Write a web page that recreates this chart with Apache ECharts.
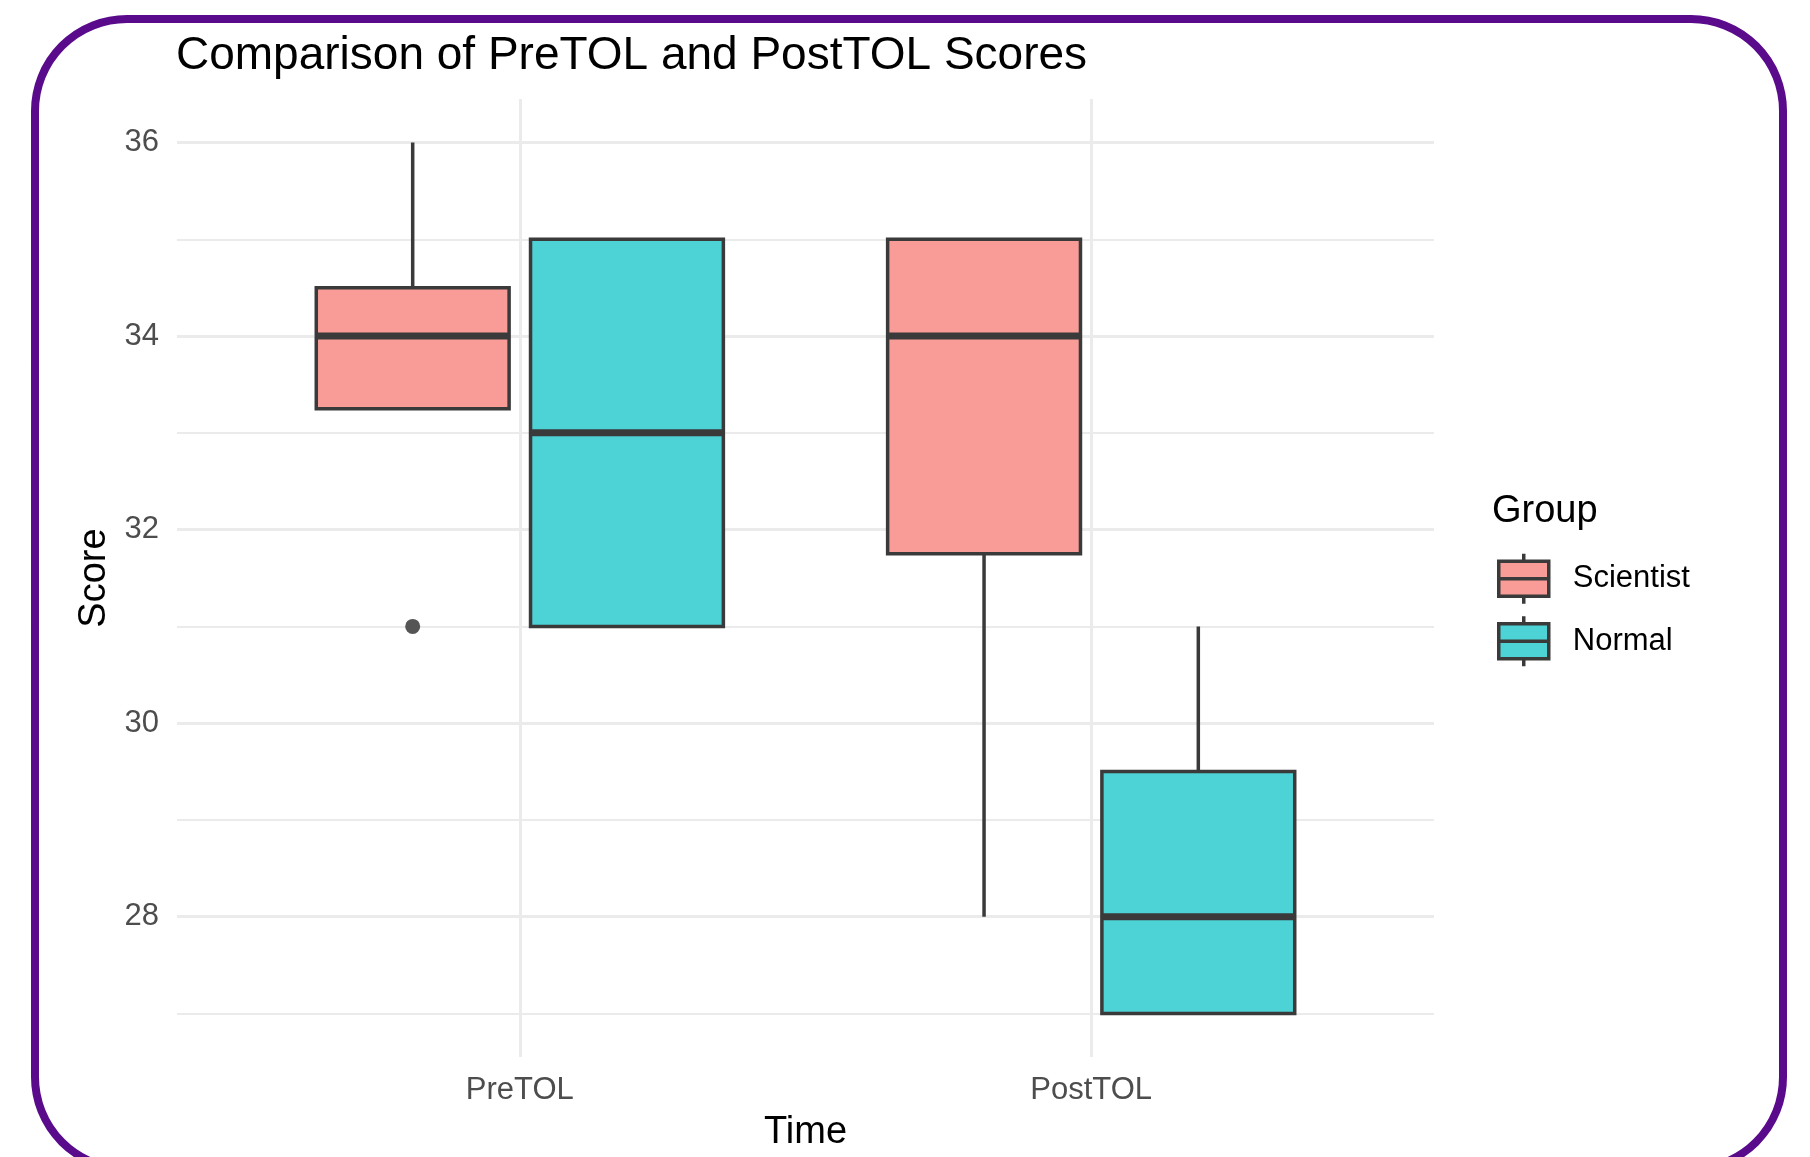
<!DOCTYPE html>
<html>
<head>
<meta charset="utf-8">
<script src="https://cdn.jsdelivr.net/npm/echarts@6/dist/echarts.min.js"></script>
<style>
html,body{margin:0;padding:0;background:#fff;}
#chart{width:1810px;height:1157px;}
</style>
</head>
<body>
<div id="chart"></div>
<script>
// ---- data ----
const categories = ['PreTOL', 'PostTOL'];
const groups = ['Scientist', 'Normal'];
// [low whisker, Q1, median, Q3, high whisker] per category
const scientistStats = [
  [33.25, 33.25, 34, 34.5, 36],
  [28, 31.75, 34, 35, 35]
];
const normalStats = [
  [31, 31, 33, 35, 35],
  [27, 27, 28, 29.5, 31]
];
// outliers: [category index, value]
const scientistOutliers = [[0, 31]];
const normalOutliers = [];
const yMajorTicks = [28, 30, 32, 34, 36];
const yMinorTicks = [27, 29, 31, 33, 35];

// ---- styling/layout constants ----
const FONT = '"Liberation Sans", Arial, Helvetica, sans-serif';
const fills = ['#F99C97', '#4DD2D6'];
const outline = '#3a3a3a';
const DODGE = 0.1875;      // half of dodge width 0.375
const BOX_HALF = 0.16875;  // box half width after padding
const offsets = [-DODGE, DODGE];

function toSeriesData(stats) {
  return stats.map((s, i) => [i + 1, s[0], s[1], s[2], s[3], s[4]]);
}

function makeRenderer(dx) {
  return function (params, api) {
    const cx = api.value(0) + dx;
    const low = api.value(1), q1 = api.value(2), med = api.value(3), q3 = api.value(4), high = api.value(5);
    const pLow = api.coord([cx, low]);
    const pQ1 = api.coord([cx, q1]);
    const pQ3 = api.coord([cx, q3]);
    const pHigh = api.coord([cx, high]);
    const left = api.coord([cx - BOX_HALF, q3]);
    const right = api.coord([cx + BOX_HALF, q1]);
    const mL = api.coord([cx - BOX_HALF, med]);
    const mR = api.coord([cx + BOX_HALF, med]);
    const color = api.visual('color');
    const lineStyle = { stroke: outline, lineWidth: 3.5 };
    const children = [];
    if (Math.abs(pLow[1] - pQ1[1]) > 0.5) {
      children.push({ type: 'line', shape: { x1: pQ1[0], y1: pQ1[1], x2: pLow[0], y2: pLow[1] }, style: lineStyle });
    }
    if (Math.abs(pHigh[1] - pQ3[1]) > 0.5) {
      children.push({ type: 'line', shape: { x1: pQ3[0], y1: pQ3[1], x2: pHigh[0], y2: pHigh[1] }, style: lineStyle });
    }
    children.push({
      type: 'rect',
      shape: { x: left[0], y: left[1], width: right[0] - left[0], height: right[1] - left[1] },
      style: { fill: color, stroke: outline, lineWidth: 3.5 }
    });
    children.push({ type: 'line', shape: { x1: mL[0], y1: mL[1], x2: mR[0], y2: mR[1] }, style: { stroke: outline, lineWidth: 7 } });
    return { type: 'group', children: children };
  };
}

const legendIcon = 'path://M0,7.5 L50,7.5 L50,42.5 L0,42.5 Z M0,25 L50,25 M25,0 L25,7.5 M25,42.5 L25,50';

const chart = echarts.init(document.getElementById('chart'), null, { renderer: 'canvas' });

const outlierData = scientistOutliers.map(o => [o[0] + 1 + offsets[0], o[1]])
  .concat(normalOutliers.map(o => [o[0] + 1 + offsets[1], o[1]]));

chart.setOption({
  backgroundColor: '#ffffff',
  animation: false,
  textStyle: { fontFamily: FONT },
  graphic: [{
    type: 'rect',
    z: -10,
    silent: true,
    shape: { x: 35, y: 19, width: 1748, height: 1150, r: 92 },
    style: { fill: '#ffffff', stroke: '#5A0B8C', lineWidth: 8 }
  }],
  title: [{
    text: 'Comparison of PreTOL and PostTOL Scores',
    left: 176, top: 33, padding: 0,
    textStyle: { fontFamily: FONT, fontSize: 46, fontWeight: 'normal', color: '#000' }
  }, {
    text: 'Group',
    left: 1492, top: 493, padding: 0,
    textStyle: { fontFamily: FONT, fontSize: 38, fontWeight: 'normal', color: '#000' }
  }],
  legend: {
    data: groups,
    orient: 'vertical',
    left: 1497, top: 552,
    padding: 0,
    itemWidth: 50, itemHeight: 50, itemGap: 9,
    icon: legendIcon,
    itemStyle: { borderColor: outline, borderWidth: 3.5 },
    textStyle: { fontFamily: FONT, fontSize: 31, color: '#000', padding: [0, 0, 0, 19] },
    selectedMode: false
  },
  grid: { left: 177, right: 376, top: 99, bottom: 92, containLabel: false },
  xAxis: {
    type: 'value',
    min: 0.4, max: 2.6,
    axisLine: { show: false },
    axisTick: { show: false, customValues: [1, 2] },
    axisLabel: {
      customValues: [1, 2],
      formatter: v => categories[Math.round(v) - 1] || '',
      fontFamily: FONT, fontSize: 31, color: '#4D4D4D', margin: 18
    },
    splitLine: { show: true, lineStyle: { color: '#EBEBEB', width: 3 } },
    name: 'Time',
    nameLocation: 'middle',
    nameGap: 57,
    nameTextStyle: { fontFamily: FONT, fontSize: 38, color: '#000' }
  },
  yAxis: [{
    type: 'value',
    min: 26.55, max: 36.45,
    axisLine: { show: false },
    axisTick: { show: false, customValues: yMajorTicks },
    axisLabel: { customValues: yMajorTicks, fontFamily: FONT, fontSize: 31, color: '#4D4D4D', margin: 18 },
    splitLine: { show: true, lineStyle: { color: '#EBEBEB', width: 3 } },
    name: 'Score',
    nameLocation: 'middle',
    nameGap: 62,
    nameRotate: 90,
    nameTextStyle: { fontFamily: FONT, fontSize: 38, color: '#000' }
  }, {
    type: 'value',
    min: 26.55, max: 36.45,
    position: 'left',
    axisLine: { show: false },
    axisTick: { show: false, customValues: yMinorTicks },
    axisLabel: { show: false },
    splitLine: { show: true, lineStyle: { color: '#EBEBEB', width: 2 } }
  }],
  series: [{
    name: groups[0],
    type: 'custom',
    renderItem: makeRenderer(offsets[0]),
    itemStyle: { color: fills[0] },
    encode: { x: 0, y: [1, 2, 3, 4, 5] },
    data: toSeriesData(scientistStats),
    z: 3
  }, {
    name: groups[1],
    type: 'custom',
    renderItem: makeRenderer(offsets[1]),
    itemStyle: { color: fills[1] },
    encode: { x: 0, y: [1, 2, 3, 4, 5] },
    data: toSeriesData(normalStats),
    z: 3
  }, {
    name: 'outliers',
    type: 'scatter',
    symbolSize: 15,
    itemStyle: { color: '#555555', opacity: 1 },
    data: outlierData,
    z: 4
  }]
});
</script>
</body>
</html>
